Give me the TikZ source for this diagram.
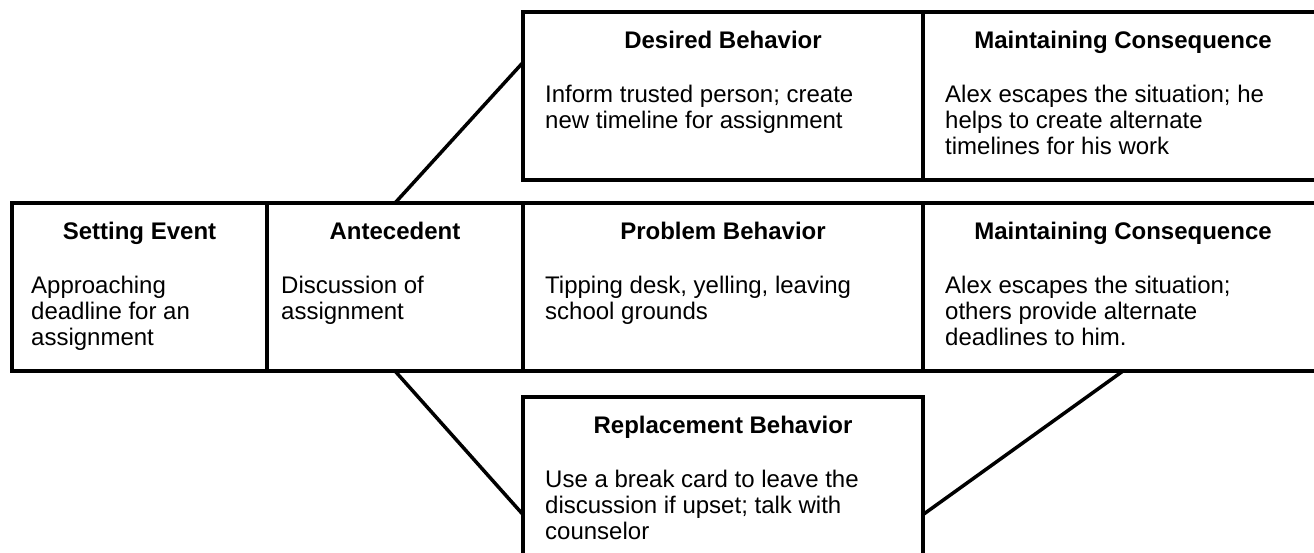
\documentclass[tikz,border=0pt]{standalone}
\usepackage{fontspec}
\setmainfont{Liberation Sans}
\usetikzlibrary{calc}
\begin{document}
\begin{tikzpicture}[x=1pt,y=-1pt,
  box/.style={draw, line width=3.5pt, rectangle, inner sep=0pt, outer sep=0pt, anchor=north west, minimum height=168pt},
  ttl/.style={font=\fontsize{24}{26}\selectfont\bfseries, anchor=base, inner sep=0pt},
  body/.style={font=\fontsize{24}{26}\selectfont, anchor=north west, align=left, inner sep=0pt},
  conn/.style={line width=3.5pt}]
\clip (0,0) rectangle (1314,552);
\fill[white] (0,0) rectangle (1314,552);
% boxes
\node[box, minimum width=255pt] (set) at (12,203) {};
\node[box, minimum width=256pt] (ante) at (267,203) {};
\node[box, minimum width=400pt] (prob) at (523,203) {};
\node[box, minimum width=400pt] (cons) at (923,203) {};
\node[box, minimum width=400pt] (des) at (523,12) {};
\node[box, minimum width=400pt] (cons2) at (923,12) {};
\node[box, minimum width=400pt] (rep) at (523,397) {};
% titles
\node[ttl] (set-t) at ($(set.north)+(0,36.6)$) {Setting Event};
\node[ttl] (ante-t) at ($(ante.north)+(0,36.6)$) {Antecedent};
\node[ttl] (prob-t) at ($(prob.north)+(0,36.6)$) {Problem Behavior};
\node[ttl] (cons-t) at ($(cons.north)+(0,36.6)$) {Maintaining Consequence};
\node[ttl] (des-t) at ($(des.north)+(0,36.6)$) {Desired Behavior};
\node[ttl] (cons2-t) at ($(cons2.north)+(0,36.6)$) {Maintaining Consequence};
\node[ttl] (rep-t) at ($(rep.north)+(0,36.6)$) {Replacement Behavior};
% bodies
\node[body] (set-b) at ($(set.north west)+(19,71.8)$) {\strut Approaching\\deadline for an\\assignment};
\node[body] (ante-b) at ($(ante.north west)+(14,71.8)$) {\strut Discussion of\\assignment};
\node[body] (prob-b) at ($(prob.north west)+(22,71.8)$) {\strut Tipping desk, yelling, leaving\\school grounds};
\node[body] (cons-b) at ($(cons.north west)+(22,71.8)$) {\strut Alex escapes the situation;\\others provide alternate\\deadlines to him.};
\node[body] (des-b) at ($(des.north west)+(22,71.8)$) {\strut Inform trusted person; create\\new timeline for assignment};
\node[body] (cons2-b) at ($(cons2.north west)+(22,71.8)$) {\strut Alex escapes the situation; he\\helps to create alternate\\timelines for his work};
\node[body] (rep-b) at ($(rep.north west)+(22,71.8)$) {\strut Use a break card to leave the\\discussion if upset; talk with\\counselor};
% connectors
\coordinate (d1) at ($(des.north west)!0.3!(des.south west)$);
\coordinate (r1) at ($(rep.north west)!0.7!(rep.south west)$);
\coordinate (r2) at ($(rep.north east)!0.7!(rep.south east)$);
\draw[conn] (ante.north) -- (d1);
\draw[conn] (ante.south) -- (r1);
\draw[conn] (cons.south) -- (r2);
\end{tikzpicture}
\end{document}
